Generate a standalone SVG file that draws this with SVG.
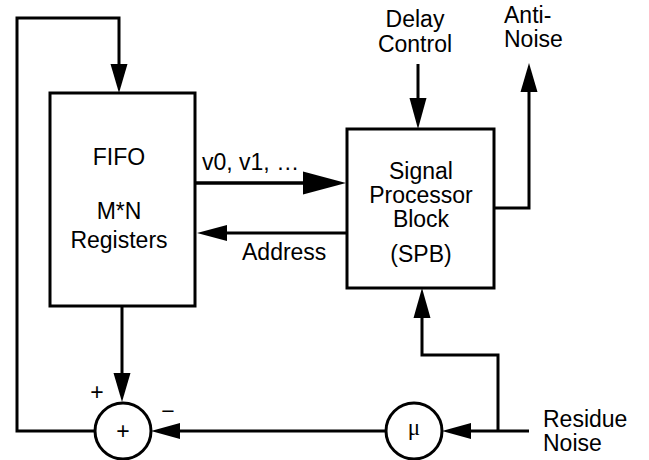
<svg xmlns="http://www.w3.org/2000/svg" width="649" height="460" viewBox="0 0 649 460">
<style>
.box{fill:#fff;stroke:#000;stroke-width:3}
.ln{fill:none;stroke:#000;stroke-width:3}
.ah{fill:#000;stroke:none}
.t{font-family:"Liberation Sans",Arial,sans-serif;font-size:23px;fill:#000}
.m{text-anchor:middle}
.mu{font-family:"Liberation Serif","Times New Roman",serif;font-size:23px;fill:#000;text-anchor:middle}
</style>
<rect width="649" height="460" fill="#fff"/>
<g id="connectors">
<path class="ln" d="M95,431 H17 V18 H119 V66"/>
<polygon class="ah" points="119,93 110.5,64 127.5,64"/>
<line class="ln" x1="195" y1="183" x2="305" y2="183" style="stroke-width:3.5"/>
<polygon class="ah" points="346,183 303,171.5 303,194.5"/>
<line class="ln" x1="347" y1="233" x2="225" y2="233"/>
<polygon class="ah" points="197,233 227,225 227,241"/>
<line class="ln" x1="418" y1="64" x2="418" y2="100"/>
<polygon class="ah" points="418,129 409.5,98 426.5,98"/>
<path class="ln" d="M494,208 H529 V90"/>
<polygon class="ah" points="529,63 520.5,92 537.5,92"/>
<line class="ln" x1="122" y1="306" x2="122" y2="375"/>
<polygon class="ah" points="122,402 113.5,373 130.5,373"/>
<line class="ln" x1="529" y1="431" x2="469" y2="431"/>
<polygon class="ah" points="442,431 471,423 471,439"/>
<path class="ln" d="M498,431 V355 H422 V316"/>
<polygon class="ah" points="422,288 413.5,318 430.5,318"/>
<line class="ln" x1="386" y1="431" x2="178" y2="431"/>
<polygon class="ah" points="151,431 180,423 180,439"/>
</g>
<g id="fifo">
<rect class="box" x="50" y="93" width="145" height="213"/>
<text class="t m" x="119" y="165">FIFO</text>
<text class="t m" x="119" y="219">M*N</text>
<text class="t m" x="119" y="248">Registers</text>
</g>
<g id="spb">
<rect class="box" x="347" y="129" width="147" height="159"/>
<text class="t m" x="421" y="179">Signal</text>
<text class="t m" x="421" y="203">Processor</text>
<text class="t m" x="421" y="227">Block</text>
<text class="t m" x="421" y="262">(SPB)</text>
</g>
<g id="summer">
<circle class="box" cx="123" cy="431" r="28"/>
<text class="t m" x="123" y="439">+</text>
<text class="t m" x="97" y="400">+</text>
<text class="t m" x="168" y="419">−</text>
</g>
<g id="mu">
<circle class="box" cx="414" cy="431" r="28"/>
<text class="mu" x="414" y="435">μ</text>
</g>
<g id="labels">
<text class="t" x="202" y="170">v0, v1, …</text>
<text class="t" x="242" y="260">Address</text>
<text class="t m" x="415" y="27">Delay</text>
<text class="t m" x="415" y="52">Control</text>
<text class="t" x="504" y="23">Anti-</text>
<text class="t" x="504" y="47">Noise</text>
<text class="t" x="543" y="427">Residue</text>
<text class="t" x="543" y="451">Noise</text>
</g>
</svg>
